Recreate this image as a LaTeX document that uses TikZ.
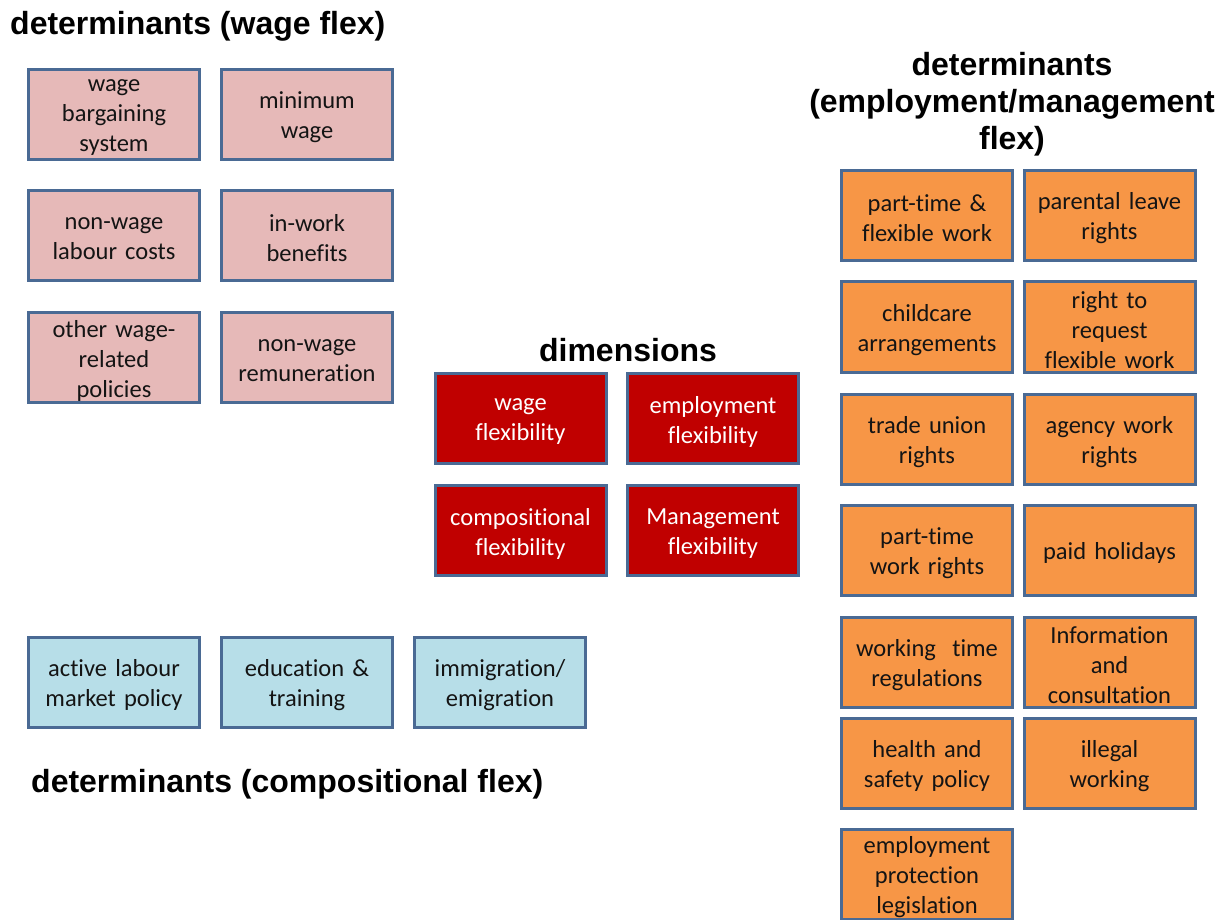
\documentclass[tikz,border=0pt]{standalone}
\usepackage{fontspec}
\setmainfont[Ligatures=NoCommon, WordSpace=0.8]{Carlito}
\newfontfamily\titlefont{Liberation Sans}
\usetikzlibrary{shadows}
\definecolor{bordc}{HTML}{4A6A94}
\definecolor{pinkc}{HTML}{E6B9B8}
\definecolor{redc}{HTML}{C00000}
\definecolor{bluec}{HTML}{B7DEE8}
\definecolor{orangec}{HTML}{F79646}
\definecolor{txtc}{HTML}{141414}
\tikzset{
  box/.style={draw=bordc, line width=3pt, minimum width=171pt, minimum height=90pt,
    inner sep=0pt, align=center, text width=168pt, text=txtc,
    font=\fontsize{24.5}{30}\selectfont,
    execute at end node={\par\vspace*{-6pt}},
    drop shadow={shadow xshift=1.5pt, shadow yshift=-1.5pt, opacity=0.35, fill=black}},
  wagebox/.style={box, fill=pinkc},
  dimbox/.style={box, fill=redc, text=white},
  compbox/.style={box, fill=bluec},
  empbox/.style={box, fill=orangec},
  ttl/.style={font=\titlefont\bfseries\fontsize{32}{37}\selectfont, inner sep=0pt, text=black, align=center}
}
\begin{document}
\begin{tikzpicture}[x=1pt,y=-1pt]
\useasboundingbox (0,0) rectangle (1227,920);
\clip (0,0) rectangle (1227,920);
% titles
\node[ttl, anchor=west] (t1) at (10,26) {determinants (wage flex)};
\node[ttl] (t2) at (628,350) {dimensions};
\node[ttl] (t3) at (1012,104) {determinants\\(employment/management\\flex)};
\node[ttl, anchor=west] (t4) at (31,784) {determinants (compositional flex)};
% wage determinants
\node[wagebox] (w1) at (114,114.5) {wage\\bargaining\\system};
\node[wagebox] (w2) at (307,114.5) {minimum\\wage};
\node[wagebox] (w3) at (114,235.5) {non-wage\\labour costs};
\node[wagebox] (w4) at (307,235.5) {in-work\\benefits};
\node[wagebox] (w5) at (114,357.5) {other wage-\\related\\policies};
\node[wagebox] (w6) at (307,357.5) {non-wage\\remuneration};
% dimensions
\node[dimbox] (d1) at (520.5,418.5) {wage\\flexibility};
\node[dimbox] (d2) at (713,418.5) {employment\\flexibility};
\node[dimbox] (d3) at (520.5,530.5) {compositional\\flexibility};
\node[dimbox] (d4) at (713,530.5) {Management\\flexibility};
% compositional
\node[compbox] (c1) at (114,682) {active labour\\market policy};
\node[compbox] (c2) at (307,682) {education \&\\training};
\node[compbox] (c3) at (500,682) {immigration/\\emigration};
% employment/management
\node[empbox] (e1) at (927,215.5) {part-time \&\\flexible work};
\node[empbox] (e2) at (1109.5,215.5) {parental leave\\rights};
\node[empbox] (e3) at (927,327) {childcare\\arrangements};
\node[empbox] (e4) at (1109.5,327) {right to\\request\\flexible work};
\node[empbox] (e5) at (927,439.5) {trade union\\rights};
\node[empbox] (e6) at (1109.5,439.5) {agency work\\rights};
\node[empbox] (e7) at (927,550.5) {part-time\\work rights};
\node[empbox] (e8) at (1109.5,550.5) {paid holidays};
\node[empbox] (e9) at (927,662.5) {working~ time\\regulations};
\node[empbox] (e10) at (1109.5,662.5) {Information\\and\\consultation};
\node[empbox] (e11) at (927,763) {health and\\safety policy};
\node[empbox] (e12) at (1109.5,763) {illegal\\working};
\node[empbox] (e13) at (927,874.5) {employment\\protection\\legislation};
\end{tikzpicture}
\end{document}
